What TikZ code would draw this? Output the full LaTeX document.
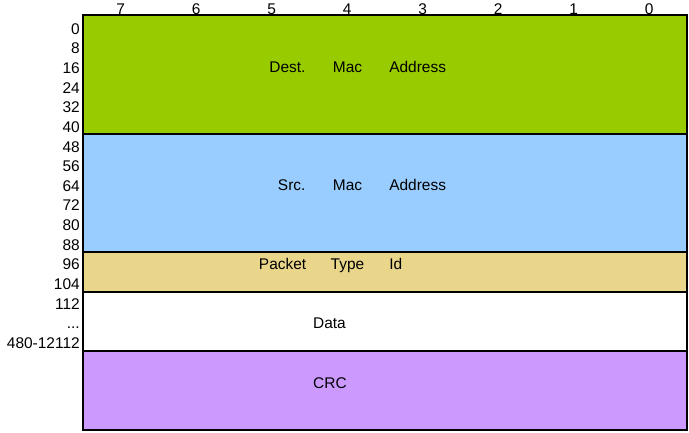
\documentclass[tikz,border=0pt]{standalone}
\usepackage{fontspec}
\setmainfont{Liberation Sans}
\definecolor{destgreen}{RGB}{153,204,0}
\definecolor{srcblue}{RGB}{153,204,255}
\definecolor{typetan}{RGB}{233,214,138}
\definecolor{crcpurple}{RGB}{204,153,255}
\begin{document}
\begin{tikzpicture}[
            x=0.75pt, y=-0.75pt,
            field/.style={draw=black, line width=0.9pt},
            lbl/.style={inner sep=0pt, font=\fontsize{11.6}{13}\selectfont},
            rowlbl/.style={lbl, anchor=mid east},
            word/.style={lbl, anchor=mid}
        ]
        \useasboundingbox (0, 0) rectangle (689, 432);

        % Felder
        \draw[field, fill=destgreen] (83, 15) rectangle (687, 134);
        \draw[field, fill=srcblue] (83, 134) rectangle (687, 252);
        \draw[field, fill=typetan] (83, 252) rectangle (687, 292);
        \draw[field, fill=white] (83, 292) rectangle (687, 351);
        \draw[field, fill=crcpurple] (83, 351) rectangle (687, 430);

        % Bitnummern
        \foreach \b in {0, ..., 7} {
                \node[word] (bit\b) at ({83 + 75.5*(7.5 - \b)}, 10.5) {\b};
            }

        % Byte-Offsets
        \foreach \i in {0, ..., 14} {
                \pgfmathtruncatemacro{\off}{8*\i}
                \node[rowlbl] (off\off) at (80, {30.6 + 19.65*\i}) {\off};
            }
        \node[rowlbl] (offdots) at (80, 324.9) {...};
        \node[rowlbl] (offend) at (80, 344.7) {480-12112};

        % Feldnamen
        \node[lbl, anchor=mid east] (dest) at (305.7, 69) {Dest.};
        \node[word] (destmac) at (347.5, 69) {Mac};
        \node[lbl, anchor=mid west] (destaddr) at (389, 69) {Address};

        \node[lbl, anchor=mid east] (src) at (305.7, 187.1) {Src.};
        \node[word] (srcmac) at (347.5, 187.1) {Mac};
        \node[lbl, anchor=mid west] (srcaddr) at (389, 187.1) {Address};

        \node[lbl, anchor=mid east] (packet) at (306.5, 265.8) {Packet};
        \node[word] (ptype) at (347.5, 265.8) {Type};
        \node[lbl, anchor=mid west] (pid) at (389, 265.8) {Id};

        \node[word] (data) at (329.5, 325.1) {Data};
        \node[word] (crc) at (330, 384.8) {CRC};
    \end{tikzpicture}
\end{document}
